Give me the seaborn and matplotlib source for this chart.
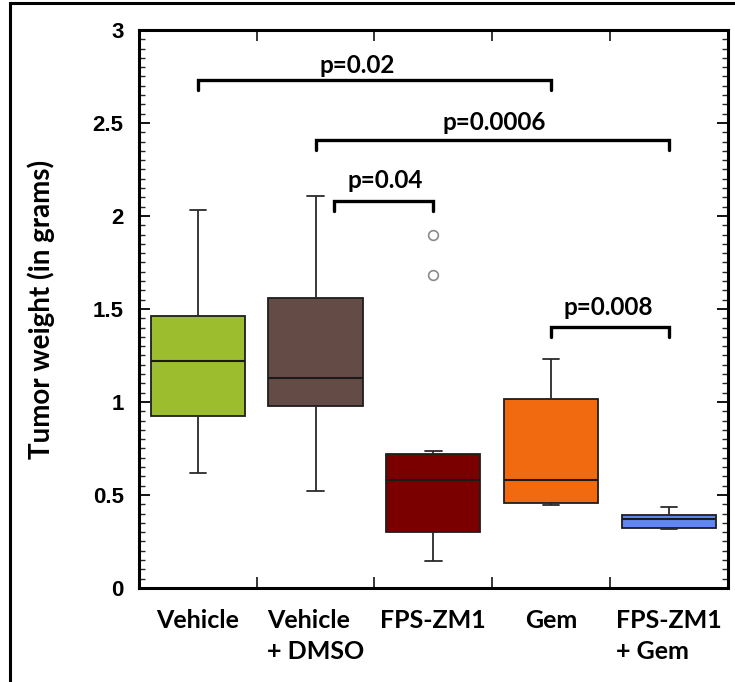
import matplotlib
matplotlib.use("Agg")
import matplotlib.pyplot as plt
from matplotlib.patches import Rectangle
from matplotlib.ticker import MultipleLocator, FixedLocator
import seaborn as sns
import pandas as pd

# ---- data (tumor weights in grams, estimated from the figure) ----
groups = ["Vehicle", "Vehicle\n+ DMSO", "FPS-ZM1", "Gem", "FPS-ZM1\n+ Gem"]
vehicle = [0.62, 0.85, 0.925, 1.10, 1.22, 1.35, 1.46, 1.70, 2.03]
vehicle_dmso = [0.52, 0.90, 0.98, 1.05, 1.13, 1.40, 1.56, 1.85, 2.11]
fps_zm1 = [0.147, 0.20, 0.28, 0.36, 0.56, 0.60, 0.668, 0.736, 1.68, 1.90]
gem = [0.446, 0.45, 0.459, 0.52, 0.58, 0.80, 1.016, 1.10, 1.23]
fps_gem = [0.317, 0.32, 0.322, 0.35, 0.37, 0.38, 0.392, 0.41, 0.437]
colors = ["#9CBD2E", "#654B45", "#7A0000", "#F26A10", "#5F86F2"]

# significance brackets
br_left = [0.0, 1.0, 1.16, 3.0]
br_right = [3.0, 4.0, 2.0, 4.0]
br_y = [2.73, 2.41, 2.083, 1.405]
br_labels = ["p=0.02", "p=0.0006", "p=0.04", "p=0.008"]
br_text_x = [1.35, 2.52, 1.59, 3.49]
br_text_y = [2.81, 2.50, 2.19, 1.51]

values = [vehicle, vehicle_dmso, fps_zm1, gem, fps_gem]
df = pd.DataFrame({
    "group": [g for g, v in zip(groups, values) for _ in v],
    "weight": [x for v in values for x in v],
})

sns.set_theme(style="white")
plt.rcParams["font.family"] = ["Lato", "DejaVu Sans"]

fig = plt.figure(figsize=(7.35, 6.82), dpi=100)
ax = fig.add_axes([0.189, 0.138, 0.801, 0.818])

sns.boxplot(
    data=df, x="group", y="weight", hue="group", order=groups,
    hue_order=groups, palette=colors, width=0.8, linewidth=1.3,
    linecolor="#1e1e1e", legend=False, ax=ax, saturation=1,
    capwidths=0.14,
    flierprops=dict(marker="o", markersize=7, markerfacecolor="white",
                    markeredgecolor="#8a8a8a", markeredgewidth=1.2),
    whiskerprops=dict(color="#2a2a2a", linewidth=1.3),
    capprops=dict(color="#2a2a2a", linewidth=1.3),
    medianprops=dict(color="#1a1a1a", linewidth=1.5),
)

ax.set_xlim(-0.5, 4.5)
ax.set_ylim(0, 3)

# y axis ticks
ax.yaxis.set_minor_locator(MultipleLocator(0.05))
ax.set_yticks([0, 0.5, 1, 1.5, 2, 2.5, 3])
ax.set_yticklabels(["0", "0.5", "1", "1.5", "2", "2.5", "3"])
for lab in ax.get_yticklabels():
    lab.set_family(["Liberation Sans", "DejaVu Sans"])
    lab.set_fontweight("bold")
    lab.set_fontsize(16)
ax.tick_params(axis="y", which="major", direction="in", length=8, width=1.3,
               left=True, right=True, pad=11, colors="black")
ax.tick_params(axis="y", which="minor", direction="in", length=4, width=1.0,
               left=True, right=True)

# x axis: boundary ticks (major, unlabeled) and labels at centers (minor)
ax.xaxis.set_major_locator(FixedLocator([0.5, 1.5, 2.5, 3.5]))
ax.xaxis.set_minor_locator(FixedLocator(range(len(groups))))
ax.set_xticklabels([], minor=False)
ax.set_xticklabels(groups, minor=True, fontsize=18, fontweight="bold",
                   linespacing=1.45)
for lab in ax.get_xticklabels(minor=True):
    lab.set_ha("center")
    lab.set_multialignment("left")
ax.tick_params(axis="x", which="major", direction="in", length=8, width=1.3,
               bottom=True, top=True)
ax.tick_params(axis="x", which="minor", length=0, pad=15, colors="black")
ax.set_xlabel("")
ax.set_ylabel("Tumor weight (in grams)", fontsize=20, fontweight="bold",
              color="black")
ax.yaxis.set_label_coords(-0.142, 0.5)

for sp in ax.spines.values():
    sp.set_visible(True)
    sp.set_color("black")
    sp.set_linewidth(2.2)

# significance brackets
drop = 0.055
for xl, xr, yb, lab, xt, yt in zip(br_left, br_right, br_y, br_labels,
                                   br_text_x, br_text_y):
    ax.plot([xl, xl, xr, xr], [yb - drop, yb, yb, yb - drop], color="black",
            lw=2.4, solid_joinstyle="miter", clip_on=False)
    ax.text(xt, yt, lab, ha="center", va="center", fontsize=17.5,
            fontweight="bold", color="black")

# outer frame of the figure panel
fig.patches.append(Rectangle((10 / 735, -0.05), 1.1, 1 - 3 / 682 + 0.05,
                             transform=fig.transFigure, fill=False,
                             edgecolor="black", linewidth=2.2))

fig.savefig("out.png", dpi=100)
